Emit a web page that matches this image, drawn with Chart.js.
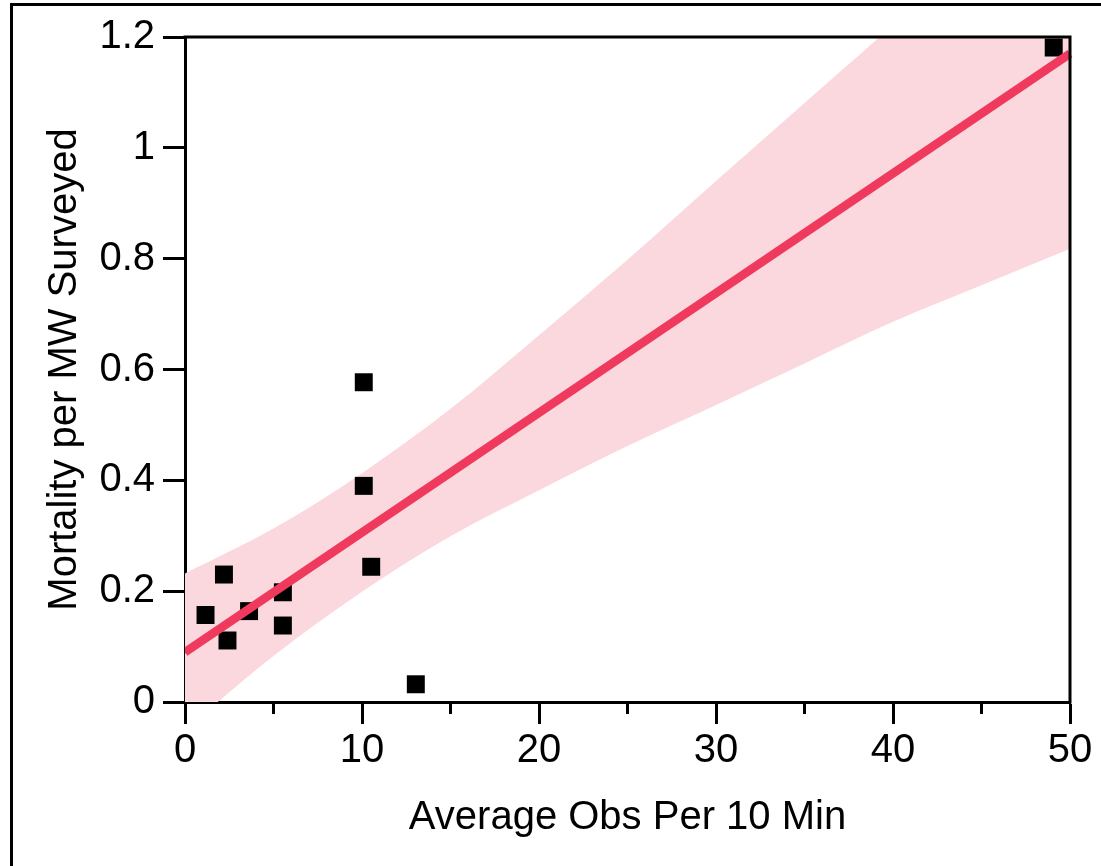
<!DOCTYPE html>
<html>
<head>
<meta charset="utf-8">
<script src="https://cdn.jsdelivr.net/npm/chart.js@4.4.0/dist/chart.umd.min.js"></script>
<style>
  html, body { margin: 0; padding: 0; background: #fff; }
  #wrap { width: 1101px; height: 866px; }
</style>
</head>
<body>
<div id="wrap"><canvas id="chart" width="1101" height="866"></canvas></div>
<script>
const obsX = [1.16, 2.20, 2.40, 3.62, 5.53, 5.53, 10.10, 10.10, 10.52, 13.04, 49.08];
const obsY = [0.157, 0.230, 0.111, 0.164, 0.198, 0.138, 0.577, 0.390, 0.244, 0.032, 1.181];

// fitted line end points
const fitX = [0, 50];
const fitY = [0.090, 1.170];

// confidence band edges, read every 5 units
const bandX     = [0, 5, 10, 15, 20, 25, 30, 35, 40, 45, 50];
const bandUpper = [0.232, 0.313, 0.413, 0.529, 0.662, 0.798, 0.940, 1.081, 1.222, 1.372, 1.522];
const bandLower = [-0.050, 0.083, 0.199, 0.299, 0.382, 0.462, 0.536, 0.611, 0.686, 0.752, 0.818];

// axis ticks
const xTicks = [0, 10, 20, 30, 40, 50];
const xMinorTicks = [5, 15, 25, 35, 45];
const yTicks = [0, 0.2, 0.4, 0.6, 0.8, 1, 1.2];
const yTickLabels = ['0', '0.2', '0.4', '0.6', '0.8', '1', '1.2'];

const FONT = "'Liberation Sans', Arial, sans-serif";
const LINE_RED = '#ef3a5e';
const BAND_PINK = '#fbd7de';

function pts(xs, ys){
  return xs.map((x, i) => ({ x: x, y: ys[i] }));
}

// outer figure frame, plot box (top/right) and minor x ticks
const decor = {
  id: 'decor',
  beforeDraw(chart){
    const ctx = chart.ctx;
    ctx.save();
    ctx.strokeStyle = '#000';
    ctx.lineWidth = 3;
    ctx.beginPath();
    ctx.moveTo(11.5, 2000);
    ctx.lineTo(11.5, 4.5);
    ctx.lineTo(2000, 4.5);
    ctx.stroke();
    ctx.restore();
  },
  afterDraw(chart){
    const {ctx, chartArea: a, scales} = chart;
    ctx.save();
    ctx.strokeStyle = '#000';
    ctx.lineWidth = 3;
    ctx.beginPath();
    ctx.moveTo(a.left - 1.5, a.top);
    ctx.lineTo(a.right, a.top);
    ctx.lineTo(a.right, a.bottom + 1.5);
    ctx.stroke();
    ctx.beginPath();
    xMinorTicks.forEach(v => {
      const px = scales.x.getPixelForValue(v);
      ctx.moveTo(px, a.bottom);
      ctx.lineTo(px, a.bottom + 12);
    });
    ctx.stroke();
    ctx.restore();
  }
};

const ctx = document.getElementById('chart').getContext('2d');
new Chart(ctx, {
  type: 'scatter',
  data: {
    datasets: [
      {
        type: 'line',
        label: 'lower',
        data: pts(bandX, bandLower),
        borderWidth: 0,
        pointRadius: 0,
        cubicInterpolationMode: 'monotone',
        backgroundColor: BAND_PINK,
        fill: false,
        order: 3
      },
      {
        type: 'line',
        label: 'upper',
        data: pts(bandX, bandUpper),
        borderWidth: 0,
        pointRadius: 0,
        cubicInterpolationMode: 'monotone',
        backgroundColor: BAND_PINK,
        fill: '-1',
        order: 3
      },
      {
        label: 'obs',
        data: pts(obsX, obsY),
        pointStyle: 'rect',
        pointRadius: 12.7,
        pointHoverRadius: 12.7,
        borderWidth: 0,
        backgroundColor: '#000',
        order: 2
      },
      {
        type: 'line',
        label: 'fit',
        data: pts(fitX, fitY),
        borderColor: LINE_RED,
        borderWidth: 8.5,
        pointRadius: 0,
        fill: false,
        clip: { left: 0, top: 0, right: 4, bottom: 0 },
        order: 1
      }
    ]
  },
  options: {
    responsive: false,
    animation: false,
    events: [],
    layout: { padding: { top: 37, right: 31, left: 0, bottom: 0 } },
    plugins: { legend: { display: false }, tooltip: { enabled: false } },
    scales: {
      x: {
        type: 'linear',
        min: 0, max: 50,
        afterBuildTicks: s => { s.ticks = xTicks.map(v => ({ value: v })); },
        afterFit: s => { s.height = 164; },
        grid: { drawOnChartArea: false, drawTicks: true, tickLength: 22, tickWidth: 3, tickColor: '#000' },
        border: { display: true, width: 3, color: '#000' },
        ticks: { color: '#000', padding: 3, maxRotation: 0, font: { family: FONT, size: 40 },
                 callback: v => String(v) },
        title: { display: true, text: 'Average Obs Per 10 Min', color: '#000',
                 font: { family: FONT, size: 40 }, padding: { top: 0, bottom: 24 } }
      },
      y: {
        type: 'linear',
        min: 0, max: 1.2,
        afterBuildTicks: s => { s.ticks = yTicks.map(v => ({ value: v })); },
        afterFit: s => { s.width = 185; },
        grid: { drawOnChartArea: false, drawTicks: true, tickLength: 22, tickWidth: 3, tickColor: '#000' },
        border: { display: true, width: 3, color: '#000' },
        ticks: { color: '#000', padding: 8, font: { family: FONT, size: 40 },
                 callback: (v, i) => yTickLabels[i] },
        title: { display: true, text: 'Mortality per MW Surveyed', color: '#000',
                 font: { family: FONT, size: 40 }, padding: { top: 41, bottom: 0 } }
      }
    }
  },
  plugins: [decor]
});
</script>
</body>
</html>
